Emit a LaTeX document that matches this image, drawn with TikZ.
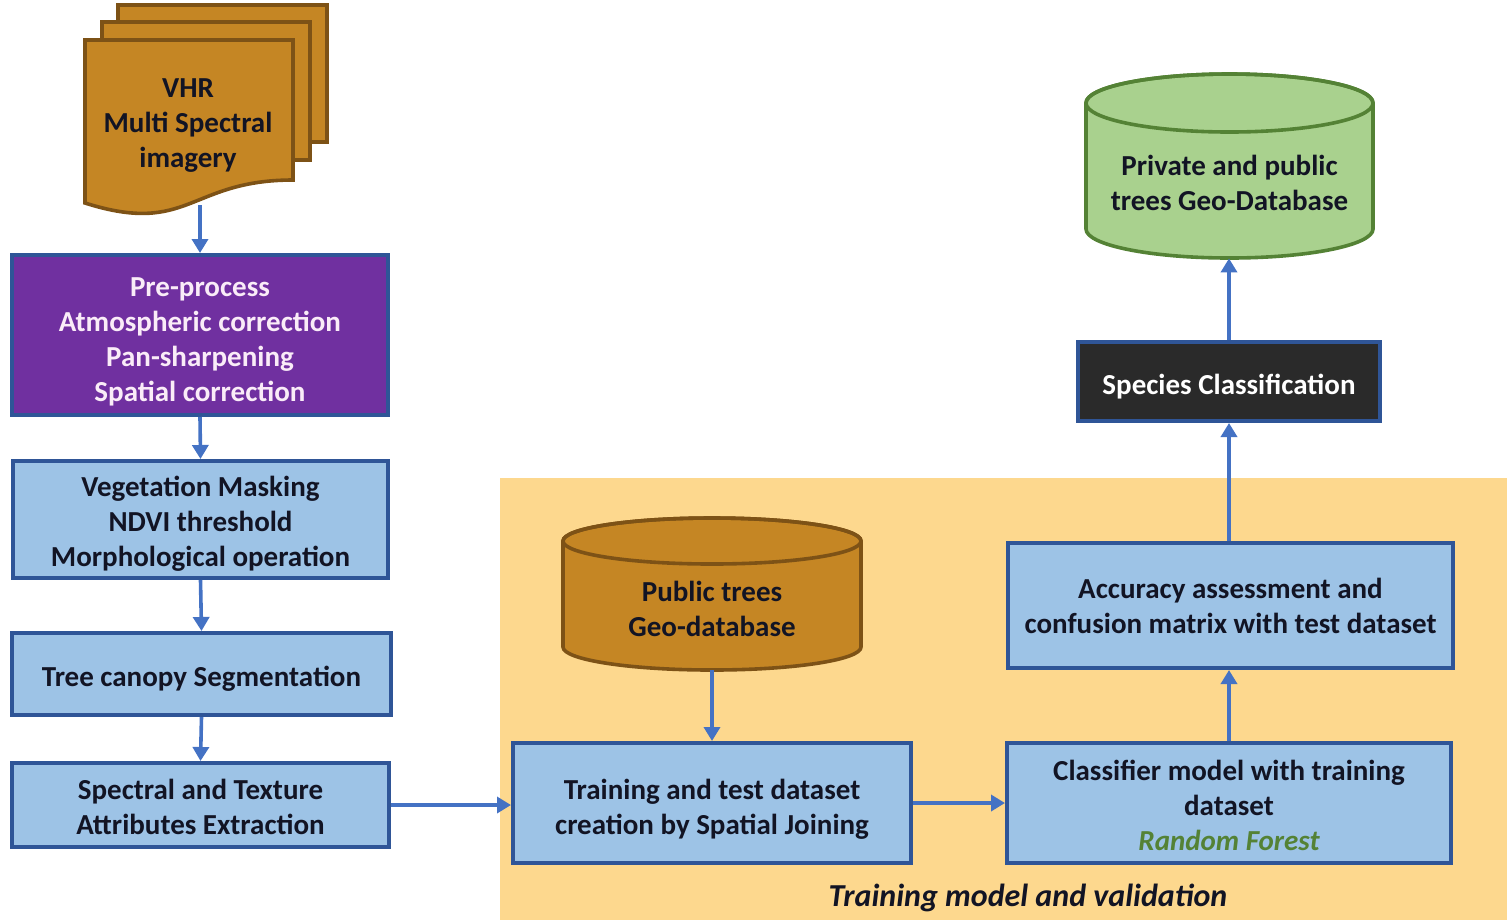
\documentclass[tikz,border=0pt]{standalone}
\usepackage{fontspec}
\setmainfont{Carlito}
\usetikzlibrary{arrows.meta,fit}
\definecolor{bordblue}{RGB}{47,85,151}
\definecolor{lightblue}{RGB}{157,195,230}
\definecolor{arrblue}{RGB}{68,114,196}
\definecolor{purp}{RGB}{112,48,160}
\definecolor{darkbox}{RGB}{42,42,42}
\definecolor{brownf}{RGB}{197,134,36}
\definecolor{brownd}{RGB}{125,82,22}
\definecolor{grnf}{RGB}{169,209,142}
\definecolor{grnd}{RGB}{84,130,53}
\definecolor{panelc}{RGB}{253,216,142}
\definecolor{txtdark}{RGB}{18,20,36}
\definecolor{pinkwhite}{RGB}{250,236,248}
\newcommand{\topstrut}[1]{\rule{0pt}{#1pt}}
\begin{document}
\begin{tikzpicture}[x=0.5pt,y=-0.5pt,
  font=\fontsize{14.5}{17.5}\selectfont\bfseries,
  box/.style={draw=bordblue, line width=2pt, fill=lightblue, inner sep=0pt, align=center, text=txtdark,
    execute at begin node={\rule{0pt}{15pt}}},
  arr/.style={draw=arrblue, line width=1.8pt, -{Triangle[length=7pt,width=8pt]}},
  holder/.style={inner sep=0pt, draw=none},
  lbl/.style={align=center, text=txtdark},
  shapeline/.style={line width=1.8pt}]
\useasboundingbox (0,0) rectangle (1509,923);

% training panel
\node[holder, fill=panelc, fit={(500,478)(1507,920)}] (panel) {};
\node[lbl, font=\fontsize{16}{18}\selectfont\bfseries\itshape] (paneltitle) at (1028,898) {Training model and validation};

% document stack
\path[draw=brownd, fill=brownf, shapeline] (118,5) rectangle (327,142);
\path[draw=brownd, fill=brownf, shapeline] (102,22) rectangle (310,160);
\path[draw=brownd, fill=brownf, shapeline] (85,40) -- (293,40) -- (293,180) .. controls (189,180) and (189,236) .. (85,203) -- cycle;
\node[holder, fit={(85,40)(293,205)}] (doc) {};
\node[lbl] (doctxt) at (188,126) {VHR\\Multi Spectral\\imagery};

% left column
\node[box, fill=purp, text=pinkwhite, minimum width=188pt, minimum height=80pt] (pre) at (200,335) {\topstrut{16}Pre-process\\Atmospheric correction\\Pan-sharpening\\Spatial correction};
\node[box, minimum width=187.5pt, minimum height=58.5pt] (veg) at (200.5,519.5) {\topstrut{14}Vegetation Masking\\NDVI threshold\\Morphological operation};
\node[box, minimum width=189.5pt, minimum height=41pt] (seg) at (201.5,674) {Tree canopy Segmentation};
\node[box, minimum width=188.5pt, minimum height=42pt] (spec) at (200.5,805) {\topstrut{12}Spectral and Texture\\Attributes Extraction};

% public trees cylinder
\path[draw=brownd, fill=brownf, shapeline] (563,541) -- (563,647) arc[start angle=180,end angle=360,x radius=74.5pt,y radius=11.5pt] -- (861,541) arc[start angle=0,end angle=180,x radius=74.5pt,y radius=11.5pt] -- cycle;
\draw[draw=brownd, shapeline] (712,541) ellipse[x radius=74.5pt, y radius=11.5pt];
\node[holder, fit={(563,518)(861,670)}] (pub) {};
\node[lbl] (pubtxt) at (712,609) {Public trees\\Geo-database};

\node[box, minimum width=199pt, minimum height=60pt] (train) at (712,803) {\topstrut{16}Training and test dataset\\creation by Spatial Joining};
\node[box, minimum width=222pt, minimum height=60pt] (clf) at (1229,803) {\topstrut{13}Classifier model with training\\dataset\\{\color{grnd}\itshape Random Forest}};
\node[box, minimum width=222.5pt, minimum height=62.5pt] (acc) at (1230.5,605.5) {Accuracy assessment and\\confusion matrix with test dataset};
\node[box, fill=darkbox, text=white, minimum width=151pt, minimum height=39.5pt] (species) at (1229,381.5) {Species Classification};

% green cylinder
\path[draw=grnd, fill=grnf, shapeline] (1086,103) -- (1086,229) arc[start angle=180,end angle=360,x radius=71.75pt,y radius=14.5pt] -- (1373,103) arc[start angle=0,end angle=180,x radius=71.75pt,y radius=14.5pt] -- cycle;
\draw[draw=grnd, shapeline] (1229.5,103) ellipse[x radius=71.75pt, y radius=14.5pt];
\node[holder, fit={(1086,74)(1373,258)}] (geo) {};
\node[lbl] (geotxt) at (1229.5,183) {Private and public\\trees Geo-Database};

% connectors
\draw[arr] (doc.south -| pre.north) -- (pre.north);
\draw[arr] (pre.south) -- (veg.north);
\draw[arr] (veg.south) -- (seg.north);
\draw[arr] (seg.south) -- (spec.north);
\draw[arr] (spec.east) -- (spec.east -| train.west);
\draw[arr] (pub.south) -- (train.north);
\draw[arr] (train.east) -- (clf.west);
\draw[arr] (clf.north) -- (clf.north |- acc.south);
\draw[arr] (acc.north -| species.south) -- (species.south);
\draw[arr] (species.north) -- (species.north |- geo.south);
\end{tikzpicture}
\end{document}
